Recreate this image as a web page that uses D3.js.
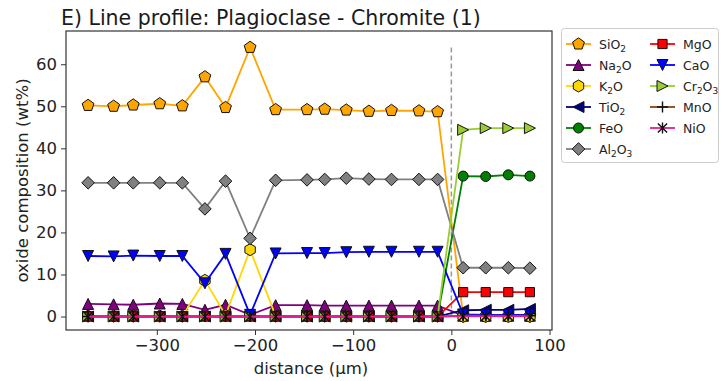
<!DOCTYPE html>
<html>
<head>
<meta charset="utf-8">
<script src="https://cdn.jsdelivr.net/npm/d3@7"></script>
<style>
  html, body { margin: 0; padding: 0; background: #fff; }
  svg { display: block; font-family: "DejaVu Sans", sans-serif; }
</style>
</head>
<body>
<svg id="chart" width="721" height="381"></svg>
<script>
// Measurement positions along the traverse (µm)
const distance = [-370, -344, -324, -297, -274, -251, -230, -205, -179, -147, -129, -107, -84, -61, -33, -14, 12, 35, 58, 80];

// Oxide concentrations (wt%) at each position
const SiO2  = [50.2, 50.0, 50.3, 50.6, 50.1, 57.0, 49.7, 64.0, 49.2, 49.2, 49.3, 49.1, 48.8, 49.0, 48.9, 48.7, 0.2, 0.1, 0.1, 0.1];
const Na2O  = [3.0, 2.9, 2.8, 3.1, 3.0, 1.6, 2.8, 0.4, 2.7, 2.7, 2.6, 2.6, 2.6, 2.6, 2.6, 2.6, 0.2, 0.2, 0.2, 0.2];
const K2O   = [0.1, 0.1, 0.1, 0.1, 0.1, 8.6, 0.3, 15.9, 0.1, 0.1, 0.1, 0.1, 0.1, 0.1, 0.1, 0.1, 0.0, 0.0, 0.0, 0.0];
const TiO2  = [0.0, 0.0, 0.0, 0.0, 0.0, 0.0, 0.0, 0.0, 0.0, 0.0, 0.0, 0.0, 0.0, 0.0, 0.0, 0.0, 1.5, 1.6, 1.6, 1.8];
const FeO   = [0.1, 0.1, 0.1, 0.1, 0.1, 0.1, 0.1, 0.1, 0.1, 0.1, 0.1, 0.1, 0.1, 0.1, 0.1, 0.1, 33.4, 33.3, 33.7, 33.4];
const Al2O3 = [31.8, 31.8, 31.8, 31.8, 31.8, 25.6, 32.2, 18.6, 32.4, 32.5, 32.6, 32.9, 32.7, 32.6, 32.6, 32.6, 11.6, 11.6, 11.6, 11.5];
const MgO   = [0.0, 0.0, 0.0, 0.0, 0.0, 0.0, 0.0, 0.0, 0.0, 0.0, 0.0, 0.0, 0.0, 0.0, 0.0, 0.0, 5.8, 5.8, 5.8, 5.8];
const CaO   = [14.4, 14.3, 14.5, 14.4, 14.4, 7.9, 14.9, 0.4, 15.0, 15.1, 15.1, 15.3, 15.4, 15.4, 15.4, 15.4, 0.5, 0.4, 0.4, 0.4];
const Cr2O3 = [0.0, 0.0, 0.0, 0.0, 0.0, 0.0, 0.0, 0.0, 0.0, 0.0, 0.0, 0.0, 0.0, 0.0, 0.0, 0.0, 44.4, 44.8, 44.8, 44.8];
const MnO   = [0.0, 0.0, 0.0, 0.0, 0.0, 0.0, 0.0, 0.0, 0.0, 0.0, 0.0, 0.0, 0.0, 0.0, 0.0, 0.0, 0.2, 0.2, 0.2, 0.2];
const NiO   = [0.0, 0.0, 0.0, 0.0, 0.0, 0.0, 0.0, 0.0, 0.0, 0.0, 0.0, 0.0, 0.0, 0.0, 0.0, 0.0, 0.1, 0.1, 0.1, 0.1];

// Axis ticks and limits
const xTicks = [-300, -200, -100, 0, 100];
const yTicks = [0, 10, 20, 30, 40, 50, 60];
const xLimits = [-392.5, 102.5];
const yLimits = [-3.2, 67.9];
const boundaryX = 0;        // plagioclase / chromite contact
const boundaryTop = 64;

// Series: label parts [text, subscript, text, subscript...], colours, marker
const series = [
  { name: ["SiO", "2"],        values: SiO2,  color: "#FFA500", fill: "#FFA500", marker: "pentagon" },
  { name: ["Na", "2", "O"],    values: Na2O,  color: "#800080", fill: "#800080", marker: "triUp" },
  { name: ["K", "2", "O"],     values: K2O,   color: "#FFD700", fill: "#FFD700", marker: "hexagon" },
  { name: ["TiO", "2"],        values: TiO2,  color: "#000080", fill: "#000080", marker: "triLeft" },
  { name: ["FeO"],             values: FeO,   color: "#008000", fill: "#008000", marker: "circle" },
  { name: ["Al", "2", "O", "3"], values: Al2O3, color: "#808080", fill: "#808080", marker: "diamond" },
  { name: ["MgO"],             values: MgO,   color: "#FF0000", fill: "#FF0000", marker: "square" },
  { name: ["CaO"],             values: CaO,   color: "#0000FF", fill: "#0000FF", marker: "triDown" },
  { name: ["Cr", "2", "O", "3"], values: Cr2O3, color: "#9ACD32", fill: "#9ACD32", marker: "triRight" },
  { name: ["MnO"],             values: MnO,   color: "#8B4513", fill: "none",    marker: "plus" },
  { name: ["NiO"],             values: NiO,   color: "#E0218A", fill: "none",    marker: "asterisk" }
];

// Marker outlines centred on the origin
function polygon(n, r, startDeg) {
  const pts = [];
  for (let k = 0; k < n; k++) {
    const a = (startDeg + k * 360 / n) * Math.PI / 180;
    pts.push([r * Math.cos(a), r * Math.sin(a)]);
  }
  return "M" + pts.map(p => p[0].toFixed(2) + "," + p[1].toFixed(2)).join("L") + "Z";
}
function markerPath(kind) {
  const s = 5.5;
  switch (kind) {
    case "pentagon": return polygon(5, 6.2, -90);
    case "hexagon":  return polygon(6, 6.0, -90);
    case "triUp":    return `M0,${-s}L${s},${s}L${-s},${s}Z`;
    case "triDown":  return `M0,${s}L${s},${-s}L${-s},${-s}Z`;
    case "triLeft":  return `M${-s},0L${s},${-s}L${s},${s}Z`;
    case "triRight": return `M${s},0L${-s},${-s}L${-s},${s}Z`;
    case "circle":   return "M5,0A5,5 0 1,1 -5,0A5,5 0 1,1 5,0Z";
    case "diamond":  return polygon(4, 6.3, -90);
    case "square":   return "M-4.6,-4.6H4.6V4.6H-4.6Z";
    case "plus":     return "M-5.5,0H5.5M0,-5.5V5.5";
    case "asterisk": return "M-4.6,-4.6L4.6,4.6M-4.6,4.6L4.6,-4.6M0,-5.5V5.5";
  }
}
const strokeOnly = k => k === "plus" || k === "asterisk";

const svg = d3.select("#chart");
const plot = { left: 66, right: 552, top: 31, bottom: 330 };

const x = d3.scaleLinear().domain(xLimits).range([plot.left, plot.right]);
const y = d3.scaleLinear().domain(yLimits).range([plot.bottom, plot.top]);

// Title
svg.append("text")
  .attr("x", 61).attr("y", 25)
  .attr("font-size", 20.5).attr("fill", "#1a1a1a")
  .text("E) Line profile: Plagioclase - Chromite (1)");

// Axes
const xAxis = svg.append("g")
  .attr("transform", `translate(0,${plot.bottom})`)
  .call(d3.axisBottom(x).tickValues(xTicks).tickSize(5).tickPadding(4).tickFormat(d => d3.format("d")(d).replace("-", "\u2212")));
const yAxis = svg.append("g")
  .attr("transform", `translate(${plot.left},0)`)
  .call(d3.axisLeft(y).tickValues(yTicks).tickSize(5).tickPadding(4));
[xAxis, yAxis].forEach(g => {
  g.select(".domain").remove();
  g.selectAll("line").attr("stroke", "#333").attr("stroke-width", 1);
  g.selectAll("text").attr("font-size", 16.5).attr("fill", "#222").attr("font-family", "DejaVu Sans, sans-serif");
});

// Frame
svg.append("rect")
  .attr("x", plot.left).attr("y", plot.top)
  .attr("width", plot.right - plot.left).attr("height", plot.bottom - plot.top)
  .attr("fill", "none").attr("stroke", "#333").attr("stroke-width", 1.2);

// Axis labels
svg.append("text")
  .attr("x", (plot.left + plot.right) / 2 + 2).attr("y", 374)
  .attr("text-anchor", "middle").attr("font-size", 16.5).attr("fill", "#222")
  .text("distance (\u00b5m)");
svg.append("text")
  .attr("transform", `translate(28,${(plot.top + plot.bottom) / 2}) rotate(-90)`)
  .attr("text-anchor", "middle").attr("font-size", 16.5).attr("fill", "#222")
  .text("oxide composition (wt%)");

const chart = svg.append("g");

// Contact between the two phases
chart.append("line")
  .attr("x1", x(boundaryX)).attr("x2", x(boundaryX))
  .attr("y1", y(0)).attr("y2", y(boundaryTop))
  .attr("stroke", "#999").attr("stroke-width", 1.5)
  .attr("stroke-dasharray", "5,3");

const line = d3.line().x(d => x(d[0])).y(d => y(d[1]));

series.forEach(s => {
  const pts = distance.map((d, i) => [d, s.values[i]]);
  const g = chart.append("g");
  g.append("path")
    .attr("d", line(pts))
    .attr("fill", "none").attr("stroke", s.color).attr("stroke-width", 1.8);
  g.selectAll("path.m").data(pts).join("path")
    .attr("class", "m")
    .attr("transform", d => `translate(${x(d[0])},${y(d[1])})`)
    .attr("d", markerPath(s.marker))
    .attr("fill", strokeOnly(s.marker) ? "none" : s.fill)
    .attr("stroke", "#111").attr("stroke-width", strokeOnly(s.marker) ? 1.4 : 1);
});

// Legend
const legend = svg.append("g");
legend.append("rect")
  .attr("x", 561.5).attr("y", 28.5).attr("width", 157).attr("height", 134)
  .attr("rx", 3).attr("fill", "#fff").attr("fill-opacity", 0.8)
  .attr("stroke", "#ccc").attr("stroke-width", 1);

const rowsPerCol = 6;
series.forEach((s, i) => {
  const col = Math.floor(i / rowsPerCol), row = i % rowsPerCol;
  const hx = col === 0 ? 566 : 650;
  const cy = 44 + row * 21;
  const item = legend.append("g");
  item.append("line")
    .attr("x1", hx).attr("x2", hx + 25).attr("y1", cy).attr("y2", cy)
    .attr("stroke", s.color).attr("stroke-width", 1.8);
  item.append("path")
    .attr("transform", `translate(${hx + 12.5},${cy})`)
    .attr("d", markerPath(s.marker))
    .attr("fill", strokeOnly(s.marker) ? "none" : s.fill)
    .attr("stroke", "#111").attr("stroke-width", strokeOnly(s.marker) ? 1.4 : 1);
  const t = item.append("text")
    .attr("x", hx + 33).attr("y", cy + 4.5)
    .attr("font-size", 12.5).attr("fill", "#222");
  s.name.forEach((part, k) => {
    const sub = k % 2 === 1;
    t.append("tspan")
      .attr("font-size", sub ? 9 : 12.5)
      .attr("dy", sub ? 3 : (k > 0 ? -3 : 0))
      .text(part);
  });
});
</script>
</body>
</html>
